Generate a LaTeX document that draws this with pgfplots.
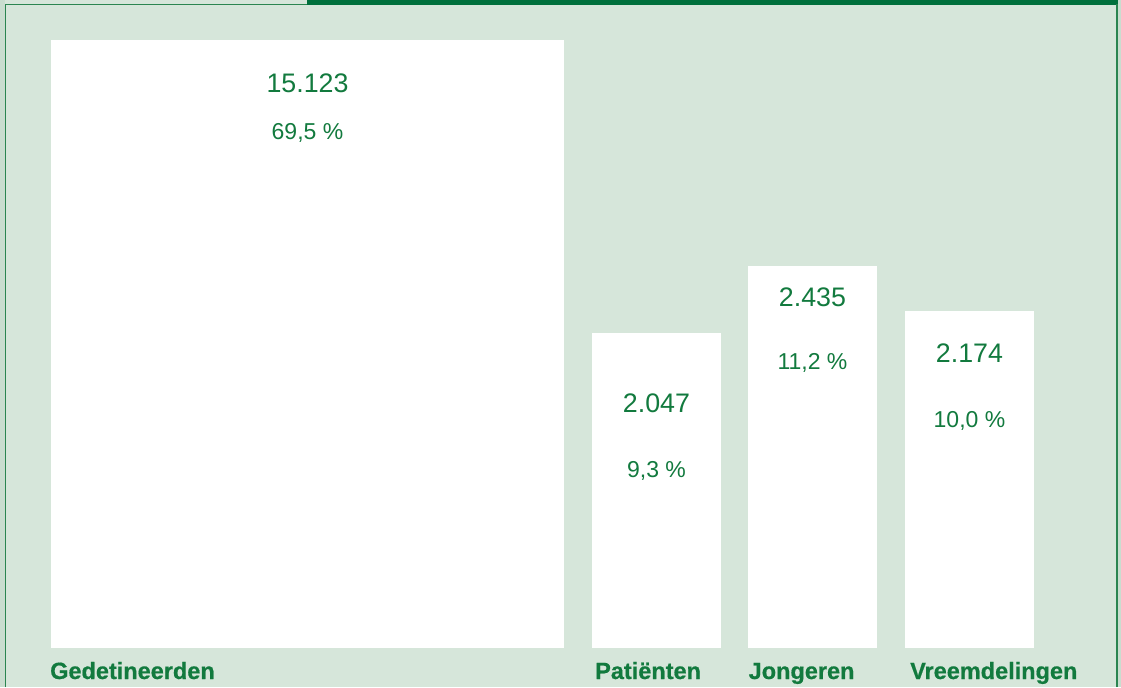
\documentclass[border=0pt]{standalone}
\usepackage{pgfplots}
\pgfplotsset{compat=1.18}
\usepackage{fontspec}
\setmainfont{Liberation Sans}
\newfontfamily\labelfont[FakeBold=0.6]{Liberation Sans Bold}
\definecolor{bg}{HTML}{D6E6DA}
\definecolor{strip}{HTML}{C9DDCF}
\definecolor{dkgreen}{HTML}{00703C}
\definecolor{txtgreen}{HTML}{127A3E}
\definecolor{edge}{HTML}{2A8550}
\begin{document}
\begin{tikzpicture}
\begin{axis}[scale only axis, width=1121pt, height=687pt,
  xmin=0, xmax=1121, ymin=0, ymax=687, hide axis, clip=false]
% background and frame
\fill[bg] (axis cs:0,0) rectangle (axis cs:1121,687);
\fill[strip] (axis cs:0,0) rectangle (axis cs:5,687);
\fill[strip] (axis cs:1118,0) rectangle (axis cs:1121,687);
\draw[edge, line width=1.8pt] (axis cs:5.5,0) -- (axis cs:5.5,682.5) -- (axis cs:307,682.5);
\fill[dkgreen] (axis cs:307,682) rectangle (axis cs:1117.5,687);
\draw[edge, line width=1.8pt] (axis cs:1116.8,0) -- (axis cs:1116.8,683);
% bars (area proportional)
\addplot[fill=white, draw=none] coordinates {(51,39) (564,39) (564,647) (51,647)} -- cycle;
\addplot[fill=white, draw=none] coordinates {(592,39) (721,39) (721,354) (592,354)} -- cycle;
\addplot[fill=white, draw=none] coordinates {(748,39) (877,39) (877,421) (748,421)} -- cycle;
\addplot[fill=white, draw=none] coordinates {(905,39) (1034,39) (1034,376) (905,376)} -- cycle;
% value labels
\begin{scope}[every node/.style={text=txtgreen, inner sep=0pt}]
\node[anchor=base, font=\fontsize{26.8}{30}\selectfont] at (axis cs:307.5,594) {15.123};
\node[anchor=base, font=\fontsize{23}{27}\selectfont] at (axis cs:307.5,547) {69,5 \%};
\node[anchor=base, font=\fontsize{26.8}{30}\selectfont] at (axis cs:656.5,274) {2.047};
\node[anchor=base, font=\fontsize{23}{27}\selectfont] at (axis cs:656.5,209) {9,3 \%};
\node[anchor=base, font=\fontsize{26.8}{30}\selectfont] at (axis cs:812.5,380) {2.435};
\node[anchor=base, font=\fontsize{23}{27}\selectfont] at (axis cs:812.5,317) {11,2 \%};
\node[anchor=base, font=\fontsize{26.8}{30}\selectfont] at (axis cs:969.5,324) {2.174};
\node[anchor=base, font=\fontsize{23}{27}\selectfont] at (axis cs:969.5,259) {10,0 \%};
% category labels
\node[anchor=base west, font=\fontsize{23.5}{28}\labelfont] at (axis cs:50,8) {Gedetineerden};
\node[anchor=base west, font=\fontsize{23.5}{28}\labelfont] at (axis cs:595,8) {Patiënten};
\node[anchor=base west, font=\fontsize{23.5}{28}\labelfont] at (axis cs:748.5,8) {Jongeren};
\node[anchor=base west, font=\fontsize{23.5}{28}\labelfont] at (axis cs:910,8) {Vreemdelingen};
\end{scope}
\end{axis}
\end{tikzpicture}
\end{document}
